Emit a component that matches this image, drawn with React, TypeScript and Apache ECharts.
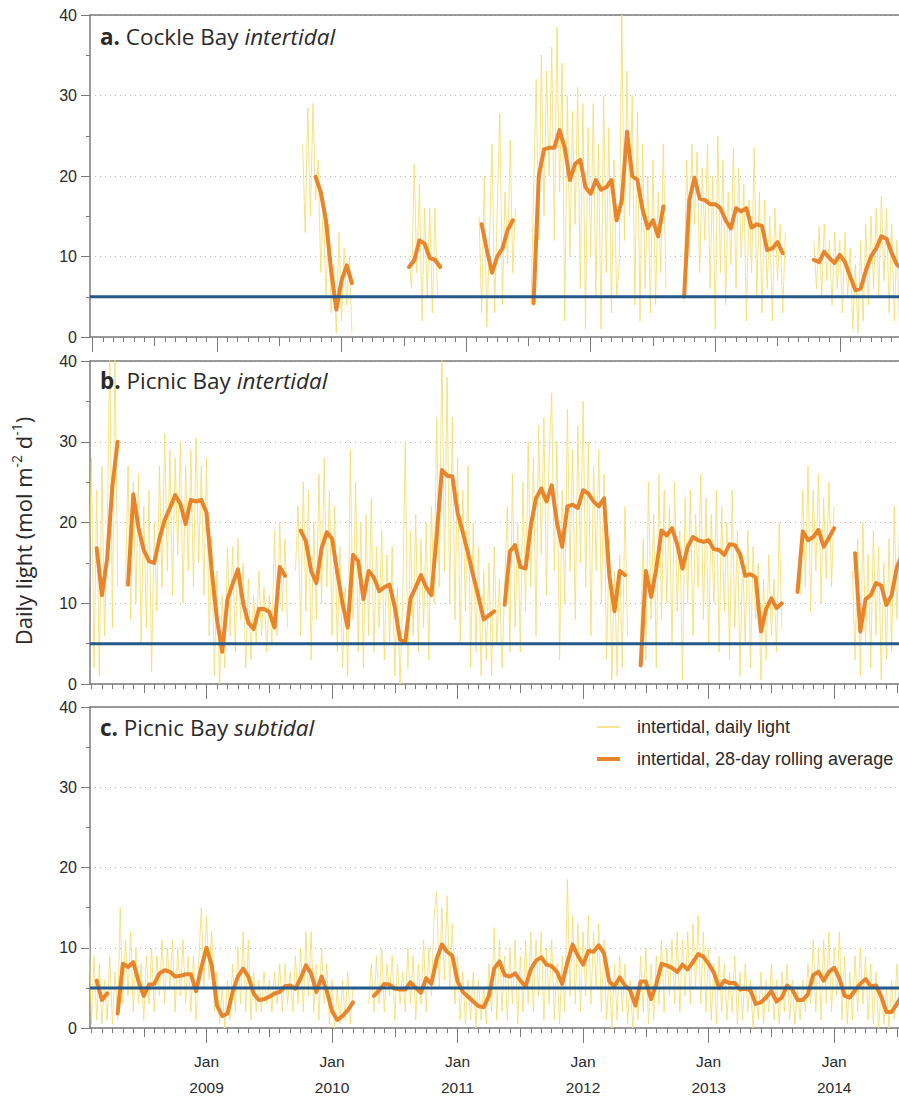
import React, { useEffect, useRef } from 'react';
import * as echarts from 'echarts';

const _ = null;
// x unit: months since Jan 2008
const DAILY_STEP = 0.25;
const AVG_STEP = 0.5;
const THRESHOLD = 5;
const yTicks = [0, 10, 20, 30, 40];
const yearTicks = [12, 24, 36, 48, 60, 72];
const yearTickLabels = ['Jan\n2009', 'Jan\n2010', 'Jan\n2011', 'Jan\n2012', 'Jan\n2013', 'Jan\n2014'];
const seriesNames = ['intertidal, daily light', 'intertidal, 28-day rolling average'];

// ---------- a. Cockle Bay intertidal ----------
const aDailyStart = 81;
const aDaily = [
  24, 13, 28.5, 15, 29, 17, 22, 8, 17, 5, 14, 3, 9, 0.5, 13, 2, 11, 4, 10, 0.5,
  _, _, _, _, _, _, _, _, _, _, _, _, _, _, _, _, _, _, _, _, _,
  10, 6, 21.5, 8, 19, 2, 16, 5, 16, 3, 16, 5,
  _, _, _, _, _, _, _, _, _, _, _, _, _, _, _,
  15, 3, 20, 1.2, 12, 24, 3, 16, 27.8, 4, 18, 9, 24.5, 8, 16,
  _, _, _, _, _,
  4, 18, 32, 12, 35, 15, 33, 20, 36, 12, 38.5, 18, 34, 2, 30, 10, 28, 14, 31, 6,
  29, 1, 26, 10, 29, 5, 24, 1, 30, 8, 26, 3, 22, 5, 9, 40, 12, 33, 15, 30,
  4, 28, 2, 24, 6, 20, 3, 22, 4, 18, 8, 24, 6,
  _, _, _, _, _, _,
  6, 22, 10, 24, 14, 23, 8, 21, 12, 24, 6, 20, 1, 25, 8, 22, 4, 18, 9, 23.5,
  6, 21, 10, 19, 2, 17, 8, 23.5, 5, 18, 3, 17, 6, 15, 2, 16, 7, 14, 3, 13,
  _, _, _, _, _, _, _, _, _, _,
  12, 6, 13.7, 5, 14, 7, 12, 4, 13, 6, 12, 3, 13, 5, 11, 1, 9, 0.5, 12, 2,
  14, 4, 15, 6, 16, 5, 17.5, 7, 16, 3, 14, 2, 12, 1, 10,
];
const aAvgStart = 43;
const aAvg = [
  19.9, 18.0, 14.5, 8.2, 3.4, 7.0, 8.9, 6.7,
  _, _, _, _, _, _, _, _, _, _,
  8.7, 9.5, 12.0, 11.6, 9.8, 9.6, 8.7,
  _, _, _, _, _, _, _,
  14.0, 10.8, 8.0, 10.0, 11.0, 13.3, 14.5,
  _, _, _,
  4.2, 20.0, 23.3, 23.5, 23.5, 25.7, 23.5, 19.5, 21.5, 22.0, 18.6, 17.8, 19.5, 18.3, 18.6, 19.5,
  14.5, 17.0, 25.5, 20.0, 19.5, 15.8, 13.5, 14.5, 12.5, 16.2,
  _, _, _,
  5.0, 17.0, 19.8, 17.2, 17.0, 16.5, 16.5, 16.0, 14.5, 13.5, 16.0, 15.6, 16.0, 13.6, 14.0, 13.8,
  10.8, 11.0, 11.8, 10.4,
  _, _, _, _, _,
  9.6, 9.3, 10.6, 9.8, 9.2, 10.2, 9.3, 7.5, 5.8, 6.0, 8.2, 10.0, 11.0, 12.5, 12.2, 10.4, 9.0, 8.5,
];

// ---------- b. Picnic Bay intertidal ----------
const bDailyStart = 3;
const bDaily = [
  12, 28, 2, 24, 1, 27, 6, 18, 42, 7, 42, 12,
  _, _,
  12, 27, 8, 25, 10, 26, 5, 22, 7, 24, 1.5, 20, 9, 27, 12, 31, 14, 29, 11, 28,
  16, 30, 10, 27, 14, 29, 12, 30.5, 15, 27, 11, 28, 6, 18, 1, 14, 0, 11, 2, 17,
  6, 17, 4, 18, 8, 15, 2, 13, 3, 11, 5, 14, 6, 12, 4, 11, 5, 19, 6, 20, 9, 18, 7,
  _, _,
  14, 22, 6, 25, 9, 24, 3, 20, 8, 26, 10, 28, 12, 24, 6, 22, 4, 17, 2, 12,
  1, 29, 8, 25, 4, 20, 2, 21, 6, 23, 4, 17, 7, 19, 3, 16, 5, 17, 1, 12,
  0, 10, 30, 2, 19, 6, 21, 4, 18, 7, 20, 3, 22, 10, 33, 12, 42, 14, 38, 10,
  33, 8, 28, 5, 24, 9, 27, 2, 20, 4, 17, 1, 14, 3, 15, 1, 17, 5, 13, 2,
  12, 22, 4, 26, 7, 20, 4, 25, 9, 30, 12, 28, 6, 32, 16, 33, 11, 28, 36, 14,
  30, 3, 24, 10, 34, 14, 29, 8, 32, 15, 35, 12, 30, 6, 27, 14, 29, 10, 26, 3,
  18, 0.5, 14, 1, 16, 2, 22, 6,
  _, _, _, _,
  6, 18, 3, 25, 8, 21, 2, 26, 8, 24, 10, 22, 5, 25, 9, 19, 0.5, 23, 10, 24,
  6, 21, 12, 26, 8, 23, 5, 21, 10, 24, 4, 22, 9, 20, 3, 24, 7, 19, 1, 16,
  5, 19, 2, 17, 8, 15, 0.5, 13, 3, 16, 6, 13, 4, 20, 7,
  _, _, _, _, _, _,
  11, 24, 12, 27, 9, 24, 14, 26, 10, 23, 13, 25, 12, 22,
  _, _, _, _, _, _,
  14, 3, 18, 1, 20, 5, 16, 2, 19, 6, 17, 0.5, 15, 3, 18, 4, 22, 8, 20,
];
const bAvgStart = 3;
const bAvg = [
  16.8, 11, 15.5, 24.5, 30,
  _,
  12.3, 23.5, 19.3, 16.6, 15.2, 15, 18, 20.3, 21.8, 23.4, 22.3, 19.8, 22.8, 22.6, 22.8, 21.2,
  14, 8, 4, 10.5, 12.4, 14.2, 10, 7.6, 6.8, 9.3, 9.3, 8.9, 7, 14.5, 13.4,
  _, _,
  19, 17.7, 14, 12.5, 16.8, 18.8, 18, 13.8, 10, 7, 16, 15.2, 10.5, 14, 13.2, 11.5, 12, 12.3,
  9.5, 5.5, 5.2, 10.6, 12, 13.5, 12, 11, 18.3, 26.5, 25.8, 25.7, 21.2, 18.8, 16.2, 13.4, 10.8,
  8, 8.5, 9,
  _,
  9.8, 16.4, 17.2, 14.5, 14.3, 19.6, 23, 24.2, 22.6, 24.6, 20, 17, 22, 22.2, 21.8, 24, 23.6,
  22.6, 22, 23, 13.5, 9, 14, 13.5,
  _, _,
  2.3, 14, 10.8, 14.3, 19, 18.4, 19.3, 17.3, 14.3, 17, 18.2, 17.8, 17.6, 17.8, 16.7, 16.6, 16,
  17.3, 17.2, 16.1, 13.4, 13.6, 13.2, 6.5, 9.3, 10.6, 9.4, 10,
  _, _,
  11.4, 18.9, 17.8, 18.2, 19.1, 17, 18.1, 19.3,
  _, _, _,
  16.2, 6.5, 10.5, 11, 12.5, 12.2, 9.8, 11, 14.5, 16,
];

// ---------- c. Picnic Bay subtidal ----------
const cDailyStart = 3;
const cDaily = [
  13, 0.5, 9, 1, 8, 0.5, 6, 1, 9, 0.5, 7, 1, 15, 3, 11, 4, 12, 2, 10, 3,
  8, 1, 9, 3, 10, 2, 9, 4, 11, 3, 10, 5, 11, 2, 10, 4, 11, 3, 9, 2,
  9, 1, 8, 15, 5, 14, 6, 12, 2, 7, 0.5, 5, 0, 6, 1, 8, 2, 10, 3, 12,
  2, 11, 1, 7, 2, 6, 2, 7, 3, 6, 2, 7, 3, 8, 2, 8, 3, 7, 2, 9,
  3, 10, 2, 12, 4, 12, 2, 8, 1, 10, 3, 8, 0.5, 6, 0, 5, 0.5, 6, 1, 7,
  0.5, 5,
  _, _, _, _, _,
  3, 8, 2, 9, 3, 10, 2, 8, 4, 9, 1, 8, 3, 7, 2, 10, 3, 9, 1, 8,
  3, 11, 2, 10, 4, 14, 17, 5, 15, 6, 16.5, 5, 13, 3, 9, 1, 7, 0.5, 6, 1,
  7, 0, 6, 1, 5, 0.5, 8, 2, 12.5, 1, 11, 2, 9, 1, 10, 3, 11, 0.5, 9, 2,
  11, 3, 12, 2, 11, 4, 12, 1, 10, 3, 11, 1, 8, 0.5, 9, 2, 18.5, 4, 14, 3,
  13, 2, 12, 4, 14, 3, 12, 5, 13, 2, 11, 1, 7, 0, 8, 1, 9, 2, 8, 0.5,
  6, 0, 5, 1, 9, 2, 10, 0.5, 8, 1, 9, 3, 11, 2, 10, 4, 11, 3, 12, 2,
  11, 4, 12, 3, 13, 5, 14, 3, 12, 2, 10, 1, 8, 0.5, 9, 2, 8, 1, 7, 2,
  9, 0.5, 7, 1, 8, 2, 6, 0, 5, 1, 7, 0.5, 6, 2, 8, 1, 6, 0.5, 7, 2,
  8, 1, 6, 0.5, 5, 1, 6, 2, 8, 3, 11, 2, 10, 1, 11, 3, 12, 2, 10, 4,
  12, 1, 9, 0.5, 7, 1, 9, 2, 10, 3, 9, 1, 8, 0.5, 7, 0, 5, 0.5, 5, 0,
  6, 1, 8, 2,
];
const cAvgStart = 3;
const cAvg = [
  5.9, 3.5, 4.3,
  _,
  1.8, 8.0, 7.6, 8.2, 5.8, 4.0, 5.4, 5.5, 6.8, 7.2, 7.0, 6.4, 6.5, 6.7, 6.7, 4.6, 7.5, 10.0,
  7.8, 2.8, 1.5, 1.8, 4.5, 6.4, 7.4, 6.4, 4.3, 3.5, 3.6, 3.9, 4.3, 4.5, 5.2, 5.3, 4.9, 6.2,
  7.8, 6.8, 4.5, 6.4, 4.6, 2.1, 1.0, 1.5, 2.2, 3.2,
  _, _, _,
  4.0, 4.7, 5.5, 5.4, 4.9, 4.8, 4.8, 5.7, 5.0, 4.4, 6.2, 5.5, 8.6, 10.4, 9.5, 9.0, 5.8, 4.5,
  3.9, 3.3, 2.7, 2.6, 4.0, 7.4, 8.3, 6.6, 6.4, 6.8, 5.9, 5.2, 7.3, 8.4, 8.8, 7.9, 7.7, 7.0,
  5.5, 8.2, 10.4, 9.0, 7.9, 9.6, 9.5, 10.3, 9.3, 5.8, 5.2, 6.3, 5.3, 4.7, 2.8, 5.8, 5.8, 3.6,
  5.5, 8.0, 7.8, 7.5, 7.0, 7.9, 7.3, 8.2, 9.2, 8.9, 8.0, 6.9, 5.0, 5.9, 5.6, 5.6, 4.8, 4.9,
  4.7, 3.0, 3.2, 3.8, 4.6, 3.3, 3.8, 5.3, 4.8, 3.5, 3.5, 4.2, 6.6, 7.0, 5.9, 7.0, 7.5, 6.2,
  4.0, 3.8, 4.7, 5.5, 6.1, 5.2, 5.3, 3.9, 2.0, 2.0, 3.0, 4.2,
];

const YELLOW = '#f2df6e';
const ORANGE = '#e8842c';
const BLUE = '#26598a';
const AXIS = '#7a7a7a';
const TEXT = '#2a2a2a';

const toPairs = (start: number, step: number, vals: (number | null)[]) =>
  vals.map((v, k) => [(start + k) * step, v]);

const panels = [
  { top: 15, height: 322, xMin: -0.23, xMax: 77.7, label: 'a.', site: 'Cockle Bay', zone: 'intertidal', titleY: 36,
    daily: toPairs(aDailyStart, DAILY_STEP, aDaily), avg: toPairs(aAvgStart, AVG_STEP, aAvg) },
  { top: 361, height: 323, xMin: 0.86, xMax: 78.2, label: 'b.', site: 'Picnic Bay', zone: 'intertidal', titleY: 380,
    daily: toPairs(bDailyStart, DAILY_STEP, bDaily), avg: toPairs(bAvgStart, AVG_STEP, bAvg) },
  { top: 707, height: 321, xMin: 0.86, xMax: 78.2, label: 'c.', site: 'Picnic Bay', zone: 'subtidal', titleY: 727,
    daily: toPairs(cDailyStart, DAILY_STEP, cDaily), avg: toPairs(cAvgStart, AVG_STEP, cAvg) },
];

const allMonths: number[] = [];
for (let m = 0; m <= 78; m++) allMonths.push(m);

export default function App() {
  const ref = useRef<HTMLDivElement>(null);
  useEffect(() => {
    if (!ref.current) return;
    const chart = echarts.init(ref.current, undefined, { renderer: 'svg' });
    const grid: any[] = [];
    const xAxis: any[] = [];
    const yAxis: any[] = [];
    const series: any[] = [];
    panels.forEach((p, g) => {
      grid.push({ left: 90, width: 809, top: p.top, height: p.height });
      const inRange = (v: number) => v >= p.xMin && v <= p.xMax;
      const monthly = allMonths.filter(inRange);
      const julys = allMonths.filter((m) => m % 12 === 6).filter(inRange);
      const jans = allMonths.filter((m) => m % 12 === 0).filter(inRange);
      const base = {
        gridIndex: g, type: 'value', min: p.xMin, max: p.xMax, position: 'bottom',
        splitLine: { show: false }, axisLabel: { show: false },
      };
      xAxis.push({
        ...base,
        axisLine: { show: true, onZero: false, lineStyle: { color: AXIS, width: 1.5 } },
        axisTick: { show: true, customValues: monthly, length: 5, lineStyle: { color: AXIS, width: 1 } },
      });
      xAxis.push({
        ...base,
        axisLine: { show: false, onZero: false },
        axisTick: { show: true, customValues: julys, length: 9, lineStyle: { color: AXIS, width: 1 } },
      });
      xAxis.push({
        ...base,
        axisLine: { show: false, onZero: false },
        axisTick: { show: true, customValues: jans, length: 15, lineStyle: { color: AXIS, width: 1 } },
        axisLabel: g === 2 ? {
          show: true, customValues: yearTicks,
          formatter: (v: number) => yearTickLabels[yearTicks.indexOf(Math.round(v))] || '',
          fontSize: 15.5, lineHeight: 26, color: TEXT, margin: 20, fontFamily: 'Liberation Sans',
        } : { show: false },
      });
      xAxis.push({
        ...base, position: 'top',
        axisLine: { show: true, onZero: false, lineStyle: { color: AXIS, width: 1.5 } },
        axisTick: { show: false },
      });
      yAxis.push({
        gridIndex: g, type: 'value', min: yTicks[0], max: yTicks[yTicks.length - 1], interval: 10,
        axisLine: { show: true, onZero: false, lineStyle: { color: AXIS, width: 1.5 } },
        axisTick: { show: true, length: 9, lineStyle: { color: AXIS } },
        minorTick: { show: true, splitNumber: 2, length: 4, lineStyle: { color: AXIS } },
        axisLabel: { fontSize: 16, color: TEXT, margin: 13, fontFamily: 'Liberation Sans' },
        splitLine: { show: true, lineStyle: { color: '#b4b9c6', width: 1, type: [1, 4] } },
      });
      const xi = g * 4;
      series.push({
        type: 'line', name: seriesNames[0], xAxisIndex: xi, yAxisIndex: g, data: p.daily,
        symbol: 'none', showSymbol: false, connectNulls: false, silent: true, z: 2,
        lineStyle: { color: YELLOW, width: 1, opacity: 0.85 }, itemStyle: { color: YELLOW },
      });
      series.push({
        type: 'line', name: seriesNames[1], xAxisIndex: xi, yAxisIndex: g, data: p.avg,
        symbol: 'none', showSymbol: false, connectNulls: false, silent: true, z: 3,
        lineStyle: { color: ORANGE, width: 4, join: 'round', cap: 'round' }, itemStyle: { color: ORANGE },
      });
      series.push({
        type: 'line', name: 'threshold', xAxisIndex: xi, yAxisIndex: g,
        data: [[p.xMin, THRESHOLD], [p.xMax, THRESHOLD]],
        symbol: 'none', silent: true, z: 4,
        lineStyle: { color: BLUE, width: 3 },
      });
    });

    const graphic: any[] = panels.map((p) => ({
      type: 'text', x: 100, y: p.titleY, z: 10,
      style: {
        text: `{b|${p.label}} {r|${p.site}} {i|${p.zone}}`,
        rich: {
          b: { fontWeight: 'bold', fontSize: 22.5, fontFamily: 'Open Sans', fill: TEXT },
          r: { fontSize: 22.5, fontFamily: 'Open Sans', fill: TEXT },
          i: { fontStyle: 'italic', fontSize: 22.5, fontFamily: 'Open Sans', fill: TEXT },
        },
        fontSize: 22.5, fontFamily: 'Open Sans', fill: TEXT, verticalAlign: 'middle', align: 'left',
      },
    }));
    graphic.push({
      type: 'text', x: 23, y: 531, rotation: Math.PI / 2,
      style: {
        text: 'Daily light (mol m{s|-2} d{s|-1})',
        rich: { s: { fontSize: 14, lineHeight: 14, verticalAlign: 'top', fontFamily: 'Open Sans', fill: TEXT } },
        fontSize: 22, lineHeight: 28, fontFamily: 'Open Sans', fill: TEXT, align: 'center', verticalAlign: 'middle',
      },
    });

    const legendCommon = {
      orient: 'vertical', left: 597, padding: 0, itemWidth: 23, icon: 'rect', selectedMode: false,
      textStyle: { fontSize: 18, color: TEXT, fontFamily: 'Liberation Sans', padding: [0, 0, 0, 12] },
    };

    chart.setOption({
      animation: false,
      backgroundColor: '#ffffff',
      grid, xAxis, yAxis, series, graphic,
      legend: [
        { ...legendCommon, data: [seriesNames[0]], top: 718, itemHeight: 1.5 },
        { ...legendCommon, data: [seriesNames[1]], top: 750, itemHeight: 4 },
      ],
    });
    return () => chart.dispose();
  }, []);
  return <div ref={ref} style={{ position: 'absolute', left: 0, top: 0, width: 899, height: 1100 }} />;
}
